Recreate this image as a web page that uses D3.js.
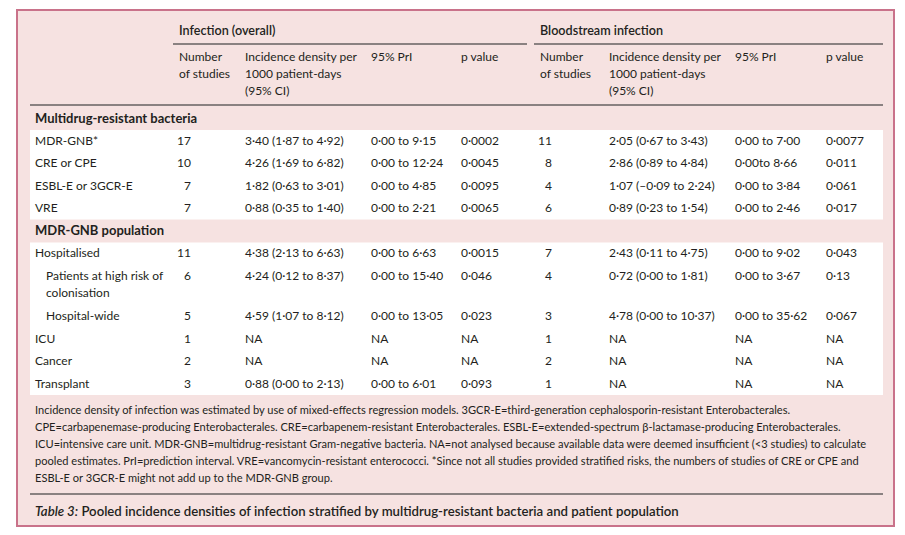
<!DOCTYPE html>
<html>
<head>
<meta charset="utf-8">
<script src="https://cdn.jsdelivr.net/npm/d3@7"></script>
<style>
  html, body { margin: 0; padding: 0; background: #ffffff; }
  svg { display: block; }
  text { font-family: Lato, "Open Sans", sans-serif; fill: #231f20; }
</style>
</head>
<body>
<svg id="chart" width="905" height="535"></svg>
<script>
// ---------------- DATA ----------------
const groupTitles = ["Infection (overall)", "Bloodstream infection"];
const columnHeaders = [["Number", "of studies"], ["Incidence density per", "1000 patient-days", "(95% CI)"], ["95% PrI"], ["p value"]];
const sectionTitles = ["Multidrug-resistant bacteria", "MDR-GNB population"];
const rowLabels = ["MDR-GNB*", "CRE or CPE", "ESBL-E or 3GCR-E", "VRE", "Hospitalised",
  "Patients at high risk of\ncolonisation", "Hospital-wide", "ICU", "Cancer", "Transplant"];
const rowSection = [0, 0, 0, 0, 1, 1, 1, 1, 1, 1];
const rowIndent = [0, 0, 0, 0, 0, 1, 1, 0, 0, 0];

const infStudies = [17, 10, 7, 7, 11, 6, 5, 1, 2, 3];
const infIncidence = ["3·40 (1·87 to 4·92)", "4·26 (1·69 to 6·82)", "1·82 (0·63 to 3·01)", "0·88 (0·35 to 1·40)",
  "4·38 (2·13 to 6·63)", "4·24 (0·12 to 8·37)", "4·59 (1·07 to 8·12)", "NA", "NA", "0·88 (0·00 to 2·13)"];
const infPrI = ["0·00 to 9·15", "0·00 to 12·24", "0·00 to 4·85", "0·00 to 2·21",
  "0·00 to 6·63", "0·00 to 15·40", "0·00 to 13·05", "NA", "NA", "0·00 to 6·01"];
const infP = ["0·0002", "0·0045", "0·0095", "0·0065", "0·0015", "0·046", "0·023", "NA", "NA", "0·093"];

const bsiStudies = [11, 8, 4, 6, 7, 4, 3, 1, 2, 1];
const bsiIncidence = ["2·05 (0·67 to 3·43)", "2·86 (0·89 to 4·84)", "1·07 (–0·09 to 2·24)", "0·89 (0·23 to 1·54)",
  "2·43 (0·11 to 4·75)", "0·72 (0·00 to 1·81)", "4·78 (0·00 to 10·37)", "NA", "NA", "NA"];
const bsiPrI = ["0·00 to 7·00", "0·00to 8·66", "0·00 to 3·84", "0·00 to 2·46",
  "0·00 to 9·02", "0·00 to 3·67", "0·00 to 35·62", "NA", "NA", "NA"];
const bsiP = ["0·0077", "0·011", "0·061", "0·017", "0·043", "0·13", "0·067", "NA", "NA", "NA"];

const footnoteLines = [
  "Incidence density of infection was estimated by use of mixed-effects regression models. 3GCR-E=third-generation cephalosporin-resistant Enterobacterales.",
  "CPE=carbapenemase-producing Enterobacterales. CRE=carbapenem-resistant Enterobacterales. ESBL-E=extended-spectrum β-lactamase-producing Enterobacterales.",
  "ICU=intensive care unit. MDR-GNB=multidrug-resistant Gram-negative bacteria. NA=not analysed because available data were deemed insufficient (<3 studies) to calculate",
  "pooled estimates. PrI=prediction interval. VRE=vancomycin-resistant enterococci. *Since not all studies provided stratified risks, the numbers of studies of CRE or CPE and",
  "ESBL-E or 3GCR-E might not add up to the MDR-GNB group."
];
const captionLabel = "Table 3:";
const captionText = " Pooled incidence densities of infection stratified by multidrug-resistant bacteria and patient population";

// ---------------- LAYOUT ----------------
const W = 905, H = 535;
const svg = d3.select("#chart");
const PINK = "#f6e2e1", BORDER = "#c9728a", RULE = "#666060";
const FS = 12;          // body font size
const left = 30, right = 883;

// column anchors
const colX = {
  label: 35, indent: 46,
  g: [
    { studiesR: 191, head: 179, inc: 245, pri: 371, p: 461, lineL: 173, lineR: 527 },
    { studiesR: 552, head: 540, inc: 609, pri: 735, p: 826, lineL: 534, lineR: 883 }
  ]
};

// outer box
svg.append("rect").attr("x", 17).attr("y", 10).attr("width", 877).attr("height", 516)
  .attr("fill", PINK).attr("stroke", BORDER).attr("stroke-width", 2);

// vertical slot layout for body rows
const slotY = d3.scaleLinear().domain([0, 1]).range([118, 140.5]);
const rowSlots = [], headerSlots = [];
let slot = 0, prevSec = -1;
rowLabels.forEach((lab, i) => {
  if (rowSection[i] !== prevSec) { headerSlots.push(slot); slot += 1; prevSec = rowSection[i]; }
  rowSlots.push(slot);
  slot += 1 + (lab.split("\n").length - 1) * 0.8;
});

// white bands for each section
sectionTitles.forEach((t, s) => {
  const idx = d3.range(rowLabels.length).filter(i => rowSection[i] === s);
  const y0 = slotY(rowSlots[idx[0]]) - 10.5;
  const lastLab = rowLabels[idx[idx.length - 1]];
  const y1 = slotY(rowSlots[idx[idx.length - 1]]) + 11.5 + (lastLab.split("\n").length - 1) * 17;
  svg.append("rect").attr("x", left).attr("y", y0).attr("width", right - left).attr("height", y1 - y0)
    .attr("fill", "#ffffff");
});

// header group titles + rules
groupTitles.forEach((t, g) => {
  const c = colX.g[g];
  svg.append("text").attr("x", c.head).attr("y", 31).attr("dy", "0.35em")
    .attr("font-size", FS + 0.6).attr("font-weight", 600).text(t);
  svg.append("line").attr("x1", c.lineL).attr("x2", c.lineR).attr("y1", 44).attr("y2", 44)
    .attr("stroke", RULE).attr("stroke-width", 1.4);
  const xs = [c.head, c.inc, c.pri, c.p];
  columnHeaders.forEach((lines, k) => {
    lines.forEach((ln, j) => {
      svg.append("text").attr("x", xs[k]).attr("y", 57 + j * 17).attr("dy", "0.35em")
        .attr("font-size", FS).text(ln);
    });
  });
});
svg.append("line").attr("x1", left).attr("x2", right).attr("y1", 105).attr("y2", 105)
  .attr("stroke", RULE).attr("stroke-width", 1.4);

// section titles
sectionTitles.forEach((t, s) => {
  svg.append("text").attr("x", colX.label).attr("y", slotY(headerSlots[s])).attr("dy", "0.35em")
    .attr("font-size", FS + 1).attr("font-weight", 700).text(t);
});

// body rows
const groups = [
  { studies: infStudies, inc: infIncidence, pri: infPrI, p: infP },
  { studies: bsiStudies, inc: bsiIncidence, pri: bsiPrI, p: bsiP }
];
const rows = svg.append("g").selectAll("g").data(rowLabels).join("g")
  .attr("transform", (d, i) => `translate(0,${slotY(rowSlots[i])})`);
rows.each(function (lab, i) {
  const g = d3.select(this);
  lab.split("\n").forEach((ln, j) => {
    g.append("text").attr("x", rowIndent[i] ? colX.indent : colX.label).attr("y", j * 17).attr("dy", "0.35em")
      .attr("font-size", FS).text(ln);
  });
  groups.forEach((grp, k) => {
    const c = colX.g[k];
    g.append("text").attr("x", c.studiesR).attr("dy", "0.35em").attr("text-anchor", "end")
      .attr("font-size", FS).text(grp.studies[i]);
    g.append("text").attr("x", c.inc).attr("dy", "0.35em").attr("font-size", FS).text(grp.inc[i]);
    g.append("text").attr("x", c.pri).attr("dy", "0.35em").attr("font-size", FS).text(grp.pri[i]);
    g.append("text").attr("x", c.p).attr("dy", "0.35em").attr("font-size", FS).text(grp.p[i]);
  });
});

// footnotes, fitted so the widest line matches the printed width
const fnGroup = svg.append("g");
const fnTexts = fnGroup.selectAll("text").data(footnoteLines).join("text")
  .attr("x", colX.label).attr("y", (d, i) => 410 + i * 17).attr("dy", "0.35em")
  .attr("font-size", 12).text(d => d);
const w3 = fnTexts.nodes()[2].getComputedTextLength();
const fnSize = Math.min(12, 12 * (867 - 35) / w3);
fnTexts.attr("font-size", fnSize);

svg.append("line").attr("x1", left).attr("x2", right).attr("y1", 494).attr("y2", 494)
  .attr("stroke", RULE).attr("stroke-width", 1.4);

const cap = svg.append("text").attr("x", colX.label).attr("y", 511).attr("dy", "0.35em")
  .attr("font-size", 13.2).attr("font-weight", 600);
cap.append("tspan").attr("font-style", "italic").text(captionLabel);
cap.append("tspan").text(captionText);
</script>
</body>
</html>
